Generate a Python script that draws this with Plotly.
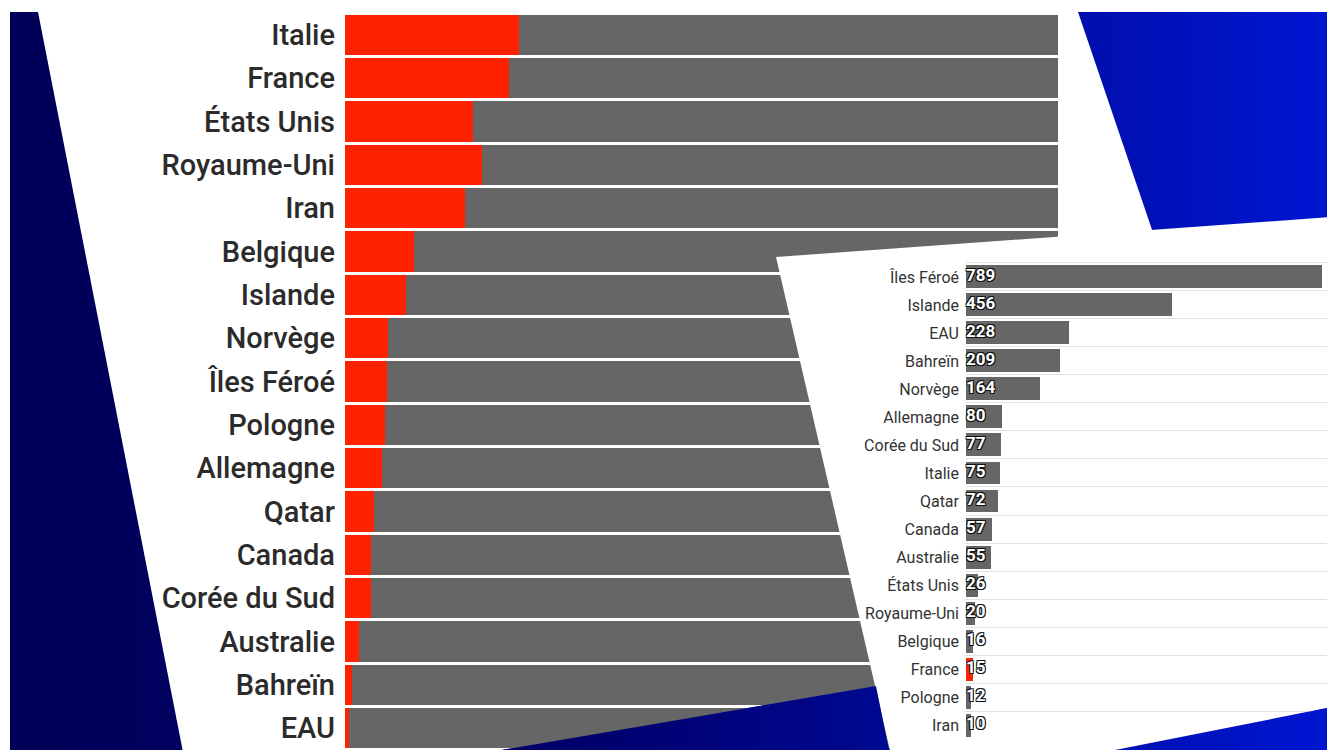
import plotly.graph_objects as go

W, H = 1327, 750

# ---- Données ----
pays_principal = ["Italie", "France", "États Unis", "Royaume-Uni", "Iran", "Belgique",
                  "Islande", "Norvège", "Îles Féroé", "Pologne", "Allemagne", "Qatar",
                  "Canada", "Corée du Sud", "Australie", "Bahreïn", "EAU"]
taux_positifs = [24.4, 23.0, 18.0, 19.2, 16.8, 9.7, 8.6, 6.1, 5.9, 5.6, 5.2, 4.1,
                 3.6, 3.6, 1.9, 1.0, 0.6]

pays_tests = ["Îles Féroé", "Islande", "EAU", "Bahreïn", "Norvège", "Allemagne",
              "Corée du Sud", "Italie", "Qatar", "Canada", "Australie", "États Unis",
              "Royaume-Uni", "Belgique", "France", "Pologne", "Iran"]
tests = [789, 456, 228, 209, 164, 80, 77, 75, 72, 57, 55, 26, 20, 16, 15, 12, 10]

RED = "#ff2200"
GREY = "#666666"
BLUE_SCALE = [[0, "#000058"], [0.45, "#00006e"], [0.72, "#000b9a"], [1, "#0016d2"]]


def fx(x):  # pixel x -> paper fraction
    return x / W


def fy(y):  # pixel y (from top) -> paper fraction
    return 1 - y / H


def poly(pts):
    xs = [p[0] for p in pts] + [pts[0][0]]
    ys = [p[1] for p in pts] + [pts[0][1]]
    return xs, ys


fig = go.Figure()

# ---- subplot 1 : fond bleu + panneau principal ----
bx, by = poly([(10, 12), (W + 5, 12), (W + 5, H + 5), (10, H + 5)])
fig.add_trace(go.Scatter(x=bx, y=by, mode="lines", fill="toself", line=dict(width=0),
                         fillgradient=dict(type="horizontal", colorscale=BLUE_SCALE,
                                           start=10, stop=W),
                         hoverinfo="skip", xaxis="x", yaxis="y"))
mx, my = poly([(38, 12), (1078, 12), (1165, 268), (876, 686), (490, 752), (183, 752)])
fig.add_trace(go.Scatter(x=mx, y=my, mode="lines", fill="toself", fillcolor="white",
                         line=dict(width=0), hoverinfo="skip", xaxis="x", yaxis="y"))

# ---- subplot 2 : graphique principal (barres empilées à 100 %) ----
fig.add_trace(go.Bar(y=pays_principal, x=taux_positifs, orientation="h",
                     marker=dict(color=RED, line=dict(width=0)),
                     xaxis="x2", yaxis="y2", hoverinfo="skip"))
fig.add_trace(go.Bar(y=pays_principal, x=[100 - v for v in taux_positifs], orientation="h",
                     marker=dict(color=GREY, line=dict(width=0)),
                     xaxis="x2", yaxis="y2", hoverinfo="skip"))

# ---- subplot 3 : panneau blanc de l'encart ----
ix, iy = poly([(776, 257), (W + 5, 217), (W + 5, 707), (1110, H + 5), (891, H + 5)])
fig.add_trace(go.Scatter(x=ix, y=iy, mode="lines", fill="toself", fillcolor="white",
                         line=dict(width=0), hoverinfo="skip", xaxis="x3", yaxis="y3"))

# ---- subplot 4 : encart (tests) ----
fig.add_trace(go.Bar(y=pays_tests, x=tests, orientation="h", width=0.82,
                     marker=dict(color=[RED if p == "France" else GREY for p in pays_tests],
                                 line=dict(width=0)),
                     xaxis="x4", yaxis="y4", hoverinfo="skip"))
fig.add_trace(go.Scatter(y=pays_tests, x=[0] * len(tests), text=[str(v) for v in tests],
                         mode="text", textposition="middle right", cliponaxis=False,
                         textfont=dict(family="Roboto", size=17, color="white", weight=700,
                                       shadow="-1px -1px 0 #111, 1px -1px 0 #111, "
                                              "-1px 1px 0 #111, 1px 1px 0 #111"),
                         xaxis="x4", yaxis="y4", hoverinfo="skip"))

# ---- subplot 5 : découpes bleues (bords inférieurs en perspective) ----
for pts in ([(490, 752), (876, 686), (891, 760), (490, 760)],
            [(1110, 751), (W + 5, 707), (W + 5, 760), (1110, 760)]):
    tx, ty = poly(pts)
    fig.add_trace(go.Scatter(x=tx, y=ty, mode="lines", fill="toself", line=dict(width=0),
                             fillgradient=dict(type="horizontal", colorscale=BLUE_SCALE,
                                               start=10, stop=W),
                             hoverinfo="skip", xaxis="x5", yaxis="y5"))

overlay_x = dict(domain=[0, 1], range=[0, W], visible=False, fixedrange=True)
overlay_y = dict(domain=[0, 1], range=[H, 0], visible=False, fixedrange=True)

fig.update_layout(
    width=W, height=H,
    margin=dict(l=0, r=0, t=0, b=0),
    paper_bgcolor="white",
    plot_bgcolor="rgba(0,0,0,0)",
    showlegend=False,
    barmode="stack",
    bargap=0.07,
    xaxis=dict(overlay_x, anchor="y"),
    yaxis=dict(overlay_y, anchor="x"),
    xaxis2=dict(domain=[fx(345), fx(1058)], range=[0, 100], visible=False,
                fixedrange=True, anchor="y2"),
    yaxis2=dict(domain=[fy(750), fy(13)], anchor="x2", autorange="reversed",
                categoryorder="array", categoryarray=pays_principal,
                showgrid=False, showline=False, zeroline=False, ticks="",
                ticklabelstandoff=9,
                tickfont=dict(family="Roboto", size=29, color="#2b2b2b", weight=500),
                fixedrange=True),
    xaxis3=dict(overlay_x, anchor="y3"),
    yaxis3=dict(overlay_y, anchor="x3"),
    xaxis4=dict(domain=[fx(966), 1], range=[0, 800], visible=False,
                fixedrange=True, anchor="y4"),
    yaxis4=dict(domain=[0, fy(252)], anchor="x4", autorange="reversed",
                categoryorder="array", categoryarray=pays_tests,
                showgrid=True, gridcolor="#e2e2e2", gridwidth=1, tickson="boundaries",
                showline=False, zeroline=False, ticks="", ticklabelstandoff=6,
                tickfont=dict(family="Roboto", size=16, color="#333333"),
                fixedrange=True),
    xaxis5=dict(overlay_x, anchor="y5"),
    yaxis5=dict(overlay_y, anchor="x5"),
)

fig.write_html("out.html",
               config={"displayModeBar": False, "staticPlot": True},
               post_script="document.body.style.margin='0';"
                           "document.body.style.overflow='hidden';")
